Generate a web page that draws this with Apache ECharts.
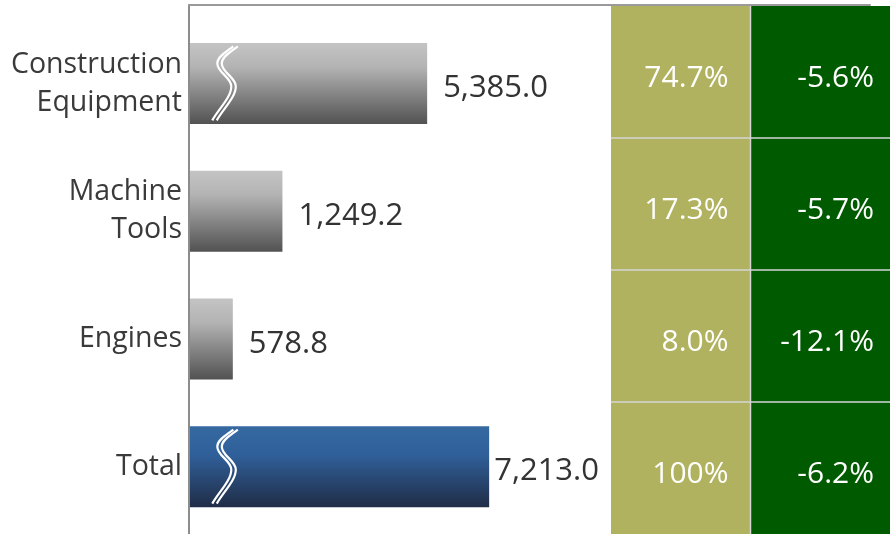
<!DOCTYPE html>
<html>
<head>
<meta charset="utf-8">
<script src="https://cdn.jsdelivr.net/npm/echarts@6/dist/echarts.min.js"></script>
<style>
  html, body { margin: 0; padding: 0; background: #ffffff; }
  #chart { width: 890px; height: 534px; }
</style>
</head>
<body>
<div id="chart"></div>
<script>
// Segment sales (left bars) with share of total and year-on-year change (right columns)
const categories = ['Construction\nEquipment', 'Machine\nTools', 'Engines', 'Total'];
const sales = [5385.0, 1249.2, 578.8, 7213.0];
const shareOfTotal = [74.7, 17.3, 8.0, 100];
const changeYoY = [-5.6, -5.7, -12.1, -6.2];
// Rows whose bars run through the compressed part of the value axis
const brokenRows = ['Construction\nEquipment', 'Total'];

const FONT = '"Open Sans", "Noto Sans", sans-serif';

const grayFill = new echarts.graphic.LinearGradient(0, 0, 0, 1, [
  { offset: 0, color: '#c4c4c4' },
  { offset: 0.3, color: '#b3b3b3' },
  { offset: 1, color: '#525252' }
]);
const blueFill = new echarts.graphic.LinearGradient(0, 0, 0, 1, [
  { offset: 0, color: '#3569a0' },
  { offset: 0.35, color: '#30609a' },
  { offset: 1, color: '#202d47' }
]);

const fmtSales = v => v.toLocaleString('en-US', { minimumFractionDigits: 1, maximumFractionDigits: 1 });
const fmtShare = v => (v === 100 ? '100' : v.toFixed(1)) + '%';
const fmtChange = v => v.toFixed(1) + '%';

const barData = sales.map((v, i) => {
  const isTotal = categories[i] === 'Total';
  return {
    value: v,
    itemStyle: { color: isTotal ? blueFill : grayFill },
    label: { distance: isTotal ? 5 : 16 }
  };
});

// Table cells: column 0 = share of total, column 1 = change
const cells = [];
categories.forEach((c, r) => {
  cells.push({ col: 0, row: r, text: fmtShare(shareOfTotal[r]) });
  cells.push({ col: 1, row: r, text: fmtChange(changeYoY[r]) });
});
const columnFill = ['#b0b260', '#005a00'];
const columnPad = [22, 16];

// Where the break marker sits along the bar
const breakMarkAt = 450;
const squiggle = 'M10,-37 C4,-32 -6,-27 -6,-20 C-6,-11 8,-6 8,3 C8,14 -5,26 -11,37';

const chart = echarts.init(document.getElementById('chart'), null, { renderer: 'canvas' });

chart.setOption({
  animation: false,
  grid: [
    { left: 190, right: 20, top: 19.5, bottom: 3.5 },   // bars
    { left: 611, right: 0, top: 6, height: 532 },       // table
    { left: 189, right: 20, top: 5, bottom: 0 }          // frame lines
  ],
  xAxis: [
    {
      gridIndex: 0, type: 'value', min: 0, max: 12360, show: false,
      breaks: [
        { start: 1300, end: 3630, gap: 150 },
        { start: 5450, end: 6590, gap: 150 }
      ],
      breakArea: { show: false }
    },
    { gridIndex: 1, type: 'category', data: ['0', '1'], show: false },
    {
      gridIndex: 2, type: 'value', min: 0, max: 1, position: 'top',
      axisLine: { show: true, onZero: false, lineStyle: { color: '#9a9a9a', width: 2 } },
      axisTick: { show: false }, axisLabel: { show: false }, splitLine: { show: false }
    }
  ],
  yAxis: [
    {
      gridIndex: 0, type: 'category', inverse: true, data: categories,
      axisLine: { show: false }, axisTick: { show: false }, splitLine: { show: false },
      axisLabel: {
        margin: 8, color: '#3a3a3a', fontSize: 28.5, lineHeight: 38, fontFamily: FONT, align: 'right'
      }
    },
    { gridIndex: 1, type: 'category', inverse: true, data: categories, show: false },
    {
      gridIndex: 2, type: 'value', min: 0, max: 1,
      axisLine: { show: true, onZero: false, lineStyle: { color: '#8c8c8c', width: 2 } },
      axisTick: { show: false }, axisLabel: { show: false }, splitLine: { show: false }
    }
  ],
  series: [
    {
      type: 'bar', xAxisIndex: 0, yAxisIndex: 0, barWidth: 81, z: 2,
      data: barData,
      label: {
        show: true, position: 'right', color: '#333333', fontSize: 31, fontFamily: FONT,
        offset: [0, 5],
        formatter: p => fmtSales(p.value)
      }
    },
    {
      // break markers drawn across the long bars
      type: 'custom', xAxisIndex: 0, yAxisIndex: 0, z: 4, silent: true,
      data: brokenRows.map(name => [breakMarkAt, categories.indexOf(name)]),
      renderItem: (params, api) => {
        const p = api.coord([api.value(0), api.value(1)]);
        const line = dx => ({
          type: 'path', x: p[0] + dx, y: p[1],
          shape: { pathData: squiggle },
          style: { stroke: '#ffffff', lineWidth: 2.2, fill: null }
        });
        return { type: 'group', children: [line(0), line(4.5)] };
      }
    },
    {
      type: 'custom', xAxisIndex: 1, yAxisIndex: 1, z: 2, silent: true,
      data: cells.map(c => [c.col, c.row]),
      renderItem: (params, api) => {
        const cell = cells[params.dataIndex];
        const c = api.coord([cell.col, cell.row]);
        const s = api.size([1, 1]);
        const x0 = c[0] - s[0] / 2, y0 = c[1] - s[1] / 2;
        const children = [
          { type: 'rect', shape: { x: x0, y: y0, width: s[0], height: s[1] },
            style: { fill: columnFill[cell.col] } }
        ];
        if (cell.row > 0) {
          children.push({ type: 'line', shape: { x1: x0, y1: y0, x2: x0 + s[0], y2: y0 },
            style: { stroke: '#d6d6d6', lineWidth: 1.5 } });
        }
        if (cell.col > 0) {
          children.push({ type: 'line', shape: { x1: x0, y1: y0, x2: x0, y2: y0 + s[1] },
            style: { stroke: '#d6d6d6', lineWidth: 1.5 } });
        }
        children.push({
          type: 'text',
          style: {
            text: cell.text, x: x0 + s[0] - columnPad[cell.col], y: c[1] + 6,
            align: 'right', verticalAlign: 'middle', fill: '#ffffff',
            font: '30px ' + FONT
          }
        });
        return { type: 'group', children };
      }
    }
  ]
});
</script>
</body>
</html>
